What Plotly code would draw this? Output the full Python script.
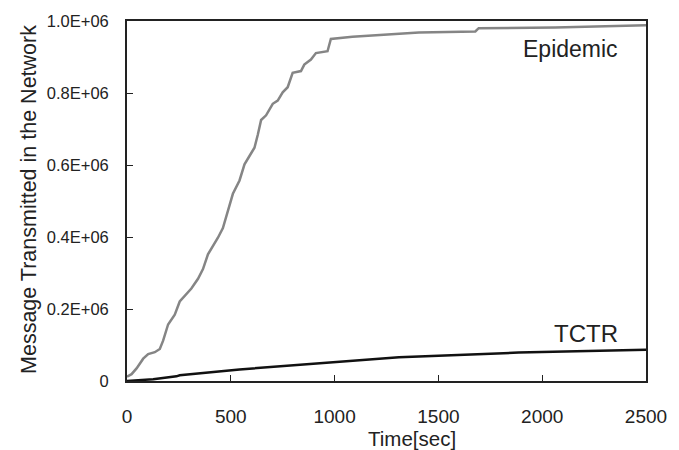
import plotly.graph_objects as go

# Epidemic series (time in sec, messages)
epi_t = [0, 22, 46, 78, 102, 134, 158, 174, 198, 230, 254, 286, 310, 342, 366, 390,
         414, 438, 462, 478, 510, 542, 566, 590, 614, 630, 646, 670, 702, 726, 750,
         774, 798, 838, 854, 886, 910, 966, 982, 1086, 1246, 1406, 1678, 1694, 2062, 2500]
epi_v = [12000, 19000, 35000, 62000, 75000, 80000, 89000, 112000, 157000, 184000,
         221000, 243000, 257000, 284000, 311000, 352000, 375000, 398000, 425000,
         457000, 520000, 557000, 602000, 625000, 648000, 684000, 725000, 738000,
         770000, 779000, 802000, 816000, 856000, 861000, 879000, 893000, 911000,
         916000, 950000, 956000, 962000, 968000, 971000, 980000, 982000, 988000]

# TCTR series
tctr_t = [0, 60, 126, 238, 254, 542, 1006, 1310, 1406, 1886, 2500]
tctr_v = [0, 1500, 5000, 13000, 16000, 32000, 53000, 66000, 68000, 79000, 87000]

x_ticks = [0, 500, 1000, 1500, 2000, 2500]
y_ticks = [0, 200000, 400000, 600000, 800000, 1000000]
y_tick_text = ["0", "0.2E+06", "0.4E+06", "0.6E+06", "0.8E+06", "1.0E+06"]

FONT = "Liberation Sans, Arial, sans-serif"

fig = go.Figure()
fig.add_trace(go.Scatter(x=epi_t, y=epi_v, mode="lines",
                         line=dict(color="#858585", width=2.5), showlegend=False))
fig.add_trace(go.Scatter(x=tctr_t, y=tctr_v, mode="lines",
                         line=dict(color="#111111", width=2.5), showlegend=False))

fig.update_layout(
    width=679, height=450,
    margin=dict(l=127, r=31, t=14, b=69),
    paper_bgcolor="white", plot_bgcolor="white",
    font=dict(family=FONT, color="#222222"),
    showlegend=False,
)
fig.update_xaxes(
    range=[0, 2500], tickvals=x_ticks, ticktext=[str(v) for v in x_ticks],
    ticks="inside", ticklen=6, tickcolor="#222222", tickwidth=1,
    showline=True, linecolor="#222222", linewidth=1.8, mirror=True,
    showgrid=False, zeroline=False,
    tickfont=dict(size=19, family=FONT, color="#222222"),
    ticklabelstandoff=17,
)
fig.update_yaxes(
    range=[0, 1000000], tickvals=y_ticks, ticktext=y_tick_text,
    ticks="inside", ticklen=6, tickcolor="#222222", tickwidth=1,
    showline=True, linecolor="#222222", linewidth=1.8, mirror=True,
    showgrid=False, zeroline=False,
    tickfont=dict(size=16.5, family=FONT, color="#222222"),
    ticklabelstandoff=13,
)

fig.add_annotation(text="Time[sec]", xref="paper", yref="paper", x=0.549,
                   y=-0.160, xanchor="center", yanchor="middle", showarrow=False,
                   font=dict(size=20.5, family=FONT, color="#222222"))
fig.add_annotation(text="Message Transmitted in the Network", xref="paper", yref="paper",
                   x=-0.19, y=0.504, xanchor="center", yanchor="middle", textangle=-90,
                   showarrow=False, font=dict(size=21.5, family=FONT, color="#222222"))
fig.add_annotation(text="Epidemic", x=2134, y=922000, xanchor="center", yanchor="middle",
                   showarrow=False, font=dict(size=23, family=FONT, color="#222222"))
fig.add_annotation(text="TCTR", x=2210, y=132000, xanchor="center", yanchor="middle",
                   showarrow=False, font=dict(size=24, family=FONT, color="#222222"))

fig.write_html("out.html")
